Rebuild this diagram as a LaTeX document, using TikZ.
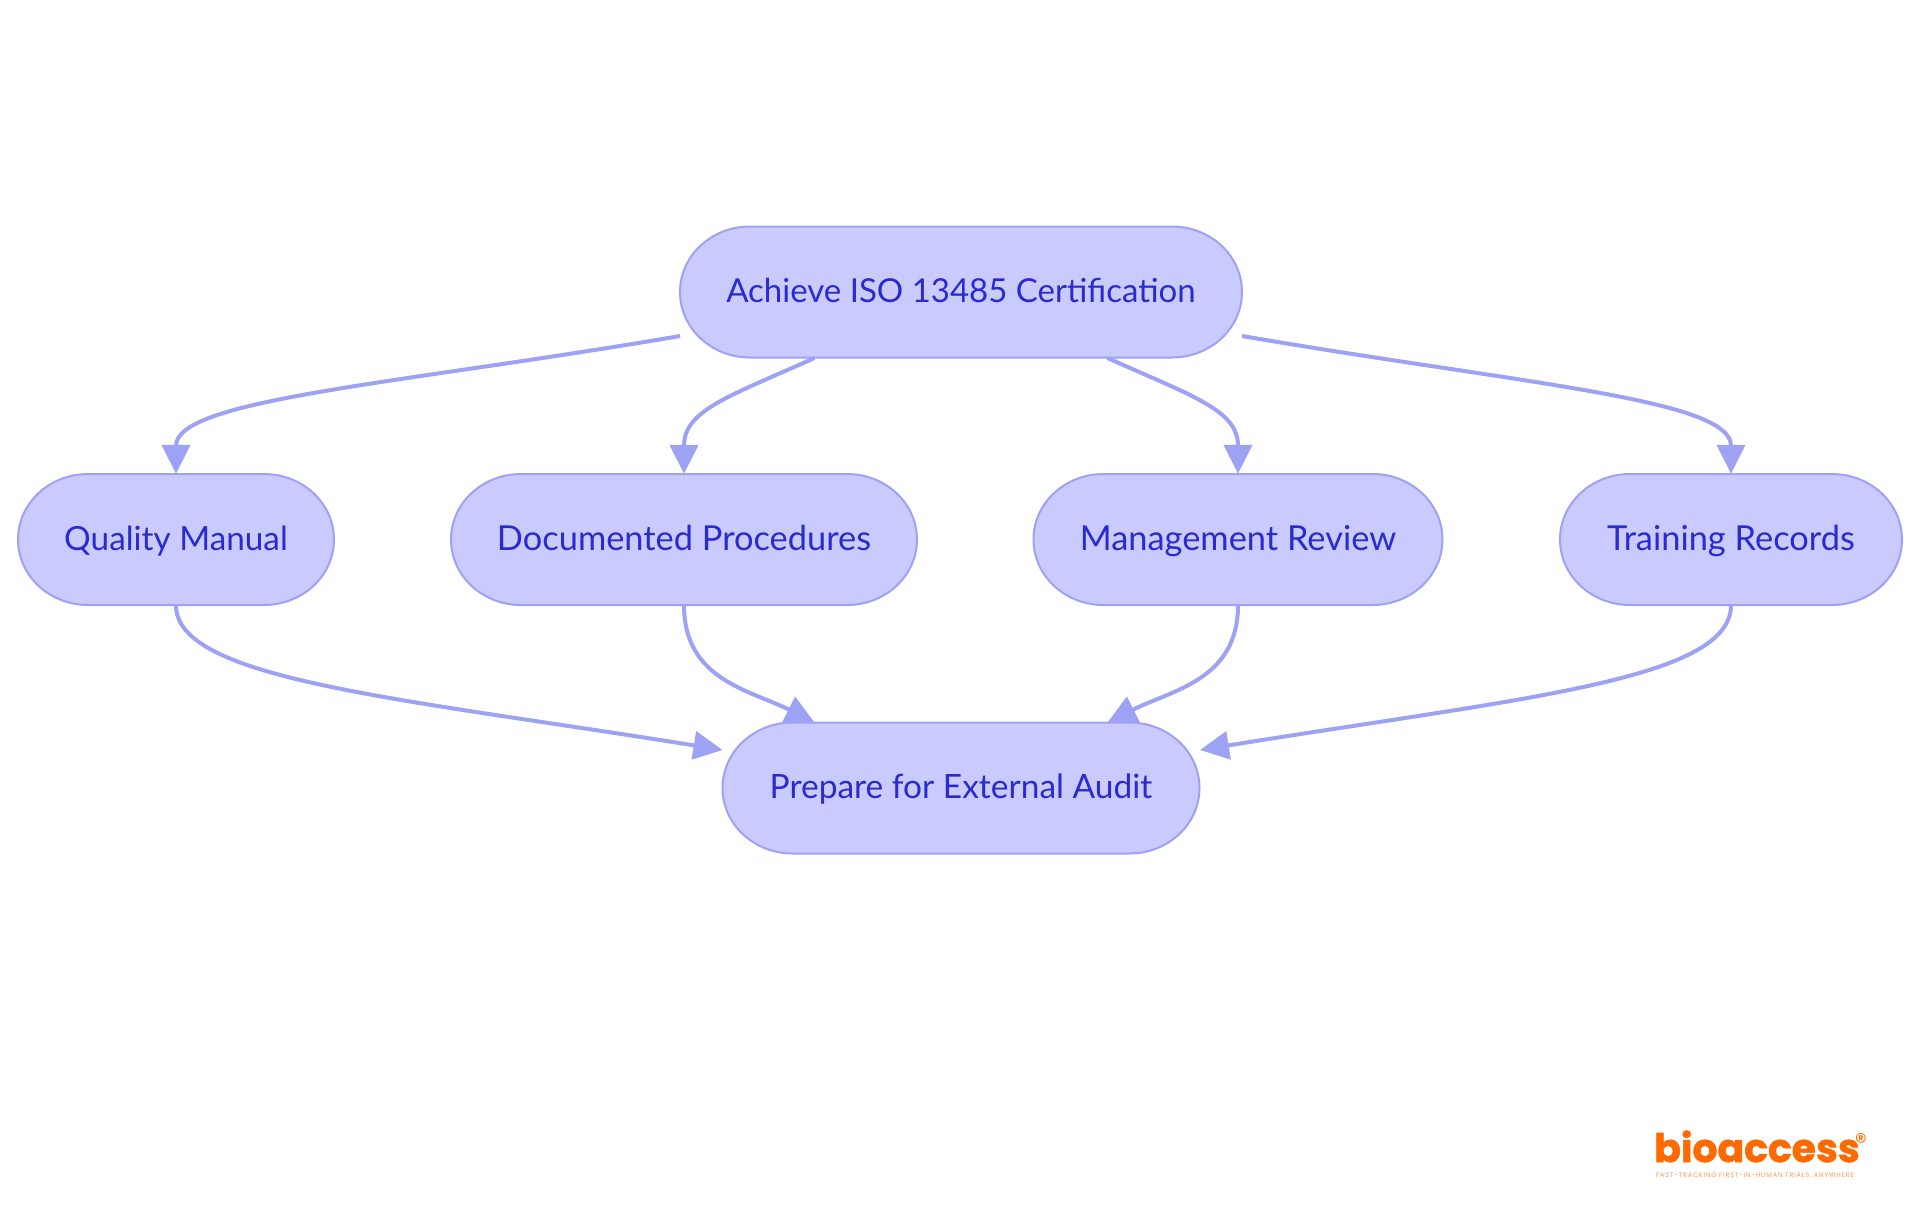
\documentclass[tikz,border=0pt]{standalone}
\usepackage{fontspec}
\setmainfont{Lato}
\newfontfamily\logofont{Poppins}
\usetikzlibrary{arrows.meta}
\definecolor{boxfill}{HTML}{C9CBFF}
\definecolor{boxline}{HTML}{9EA2F4}
\definecolor{boxtext}{HTML}{2A2AD0}
\definecolor{logoorange}{HTML}{FF6A00}
\tikzset{
  x=1pt,y=-1pt,
  capsuleshape/.style={draw=boxline,line width=2pt,fill=boxfill},
  box/.style={text=boxtext,minimum height=131pt,inner sep=0pt,
    text height=24pt,text depth=3pt},
  link/.style={draw=boxline,line width=4pt,-{Triangle[length=29pt,width=28pt]}},
  logotext/.style={inner sep=0pt,text=logoorange},
}
\newcommand{\capsule}[6]{%
  \pgfmathsetmacro\hw{#4/2-70}%
  \draw[capsuleshape,shift={(#2,#3)}] (-\hw,-65.5) -- (\hw,-65.5)
    .. controls +(38.7,0) and +(0,-36.2) .. (\hw+70,0)
    .. controls +(0,36.2) and +(38.7,0) .. (\hw,65.5) -- (-\hw,65.5)
    .. controls +(-38.7,0) and +(0,36.2) .. (-\hw-70,0)
    .. controls +(0,-36.2) and +(-38.7,0) .. (-\hw,-65.5) -- cycle;
  \node[box,minimum width=#4pt,font=\fontsize{#5}{40}\selectfont] (#1) at (#2,#3) {#6};}
\begin{document}
\begin{tikzpicture}
\useasboundingbox (0,0) rectangle (1920,1215);
\fill[white] (0,0) rectangle (1920,1215);
\capsule{top}{961}{292}{562}{33}{Achieve ISO 13485 Certification}
\capsule{quality}{176}{539.5}{316}{33.3}{Quality Manual}
\capsule{docs}{684}{539.5}{466}{34.4}{Documented Procedures}
\capsule{mgmt}{1238}{539.5}{409}{34.4}{Management Review}
\capsule{train}{1731}{539.5}{342}{34.4}{Training Records}
\capsule{audit}{961}{788}{477}{33.5}{Prepare for External Audit}
\coordinate (topLL) at (680,336);
\coordinate (topL) at (814.5,358);
\coordinate (topR) at (1107.5,358);
\coordinate (topRR) at (1242,336);
\coordinate (auditLL) at (722.5,750);
\coordinate (auditL) at (814.5,722.5);
\coordinate (auditR) at (1107.5,722.5);
\coordinate (auditRR) at (1200,750);
\draw[link] (topLL) .. controls (400,384) and (176,399) .. (quality.north);
\draw[link] (topL) .. controls (730,396) and (684,410) .. (docs.north);
\draw[link] (topR) .. controls (1192,396) and (1238,410) .. (mgmt.north);
\draw[link] (topRR) .. controls (1522,384) and (1731,399) .. (train.north);
\draw[link] (quality.south) .. controls (176,680) and (400,698) .. (auditLL);
\draw[link] (docs.south) .. controls (684,680) and (750,690) .. (auditL);
\draw[link] (mgmt.south) .. controls (1238,680) and (1172,690) .. (auditR);
\draw[link] (train.south) .. controls (1731,680) and (1522,698) .. (auditRR);
\node[logotext,anchor=base west,font=\logofont\bfseries\fontsize{39.3}{40}\selectfont\addfontfeature{FakeBold=1.5}] (logo) at (1654,1162) {bioaccess};
\node[logotext,anchor=center,font=\logofont\fontsize{24}{24}\selectfont] (reg) at (1861,1142) {®};
\node[logotext,text=logoorange!70,anchor=center,font=\logofont\fontsize{6.5}{7}\selectfont\addfontfeature{LetterSpace=12.6}] (tag) at (1755,1176) {FAST-TRACKING FIRST-IN-HUMAN TRIALS, ANYWHERE};
\end{tikzpicture}
\end{document}
